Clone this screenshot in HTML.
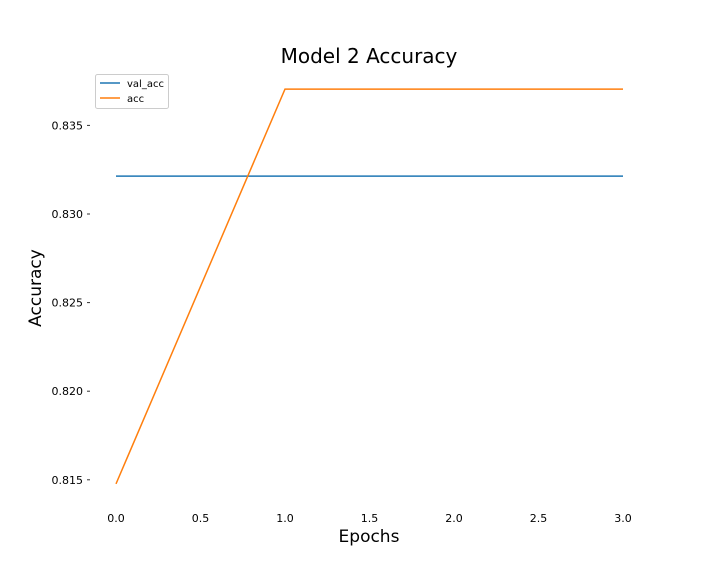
<!DOCTYPE html>
<html><head><meta charset="utf-8"><style>
body{margin:0;background:#fff;}
svg{display:block;font-family:"DejaVu Sans","Liberation Sans",sans-serif;}
</style></head><body>
<svg id="chart" width="720" height="576">
<text x="369" y="63" font-size="20" text-anchor="middle">Model 2 Accuracy</text>
<text x="369" y="542" font-size="17" text-anchor="middle">Epochs</text>
<text transform="translate(41,288) rotate(-90)" font-size="17" text-anchor="middle">Accuracy</text>
<g id="xticks"></g><g id="yticks"></g><g id="lines"></g>
<g>
<rect x="95.5" y="74.5" width="73" height="34" fill="#fff" stroke="#ccc" rx="2"/>
<line x1="100" y1="83" x2="120" y2="83" stroke="#1f77b4" stroke-width="1.5"/>
<text x="127" y="87" font-size="10">val_acc</text>
<line x1="100" y1="98" x2="120" y2="98" stroke="#ff7f0e" stroke-width="1.5"/>
<text x="127" y="102" font-size="10">acc</text>
</g>
</svg>
<script>
const epochs=[0,1,2,3];
const valAcc=[0.83214,0.83214,0.83214,0.83214];
const acc=[0.81477,0.83705,0.83705,0.83705];
const xTicks=[0,0.5,1,1.5,2,2.5,3];
const yTicks=[0.815,0.820,0.825,0.830,0.835];
const NS="http://www.w3.org/2000/svg";
const xs=v=>116+v*169;
const ys=v=>214-(v-0.830)/0.005*88.6;
function mk(t,a,p){const e=document.createElementNS(NS,t);for(const k in a)e.setAttribute(k,a[k]);p.appendChild(e);return e;}
const xg=document.getElementById('xticks'),yg=document.getElementById('yticks'),lg=document.getElementById('lines');
xTicks.forEach(v=>{const t=mk('text',{x:xs(v),y:522,'font-size':11,'text-anchor':'middle'},xg);t.textContent=v.toFixed(1);

});
yTicks.forEach(v=>{const t=mk('text',{x:83,y:ys(v)+4,'font-size':11,'text-anchor':'end'},yg);t.textContent=v.toFixed(3);


mk('line',{x1:87,x2:90,y1:ys(v),y2:ys(v),stroke:'#333'},yg);});
function line(vals,color,name){const p=mk('polyline',{points:vals.map((v,i)=>xs(epochs[i])+','+ys(v)).join(' '),fill:'none',stroke:color,'stroke-width':1.5},lg);

}
line(valAcc,'#1f77b4','val-acc-line');
line(acc,'#ff7f0e','acc-line');
</script>
</body></html>
